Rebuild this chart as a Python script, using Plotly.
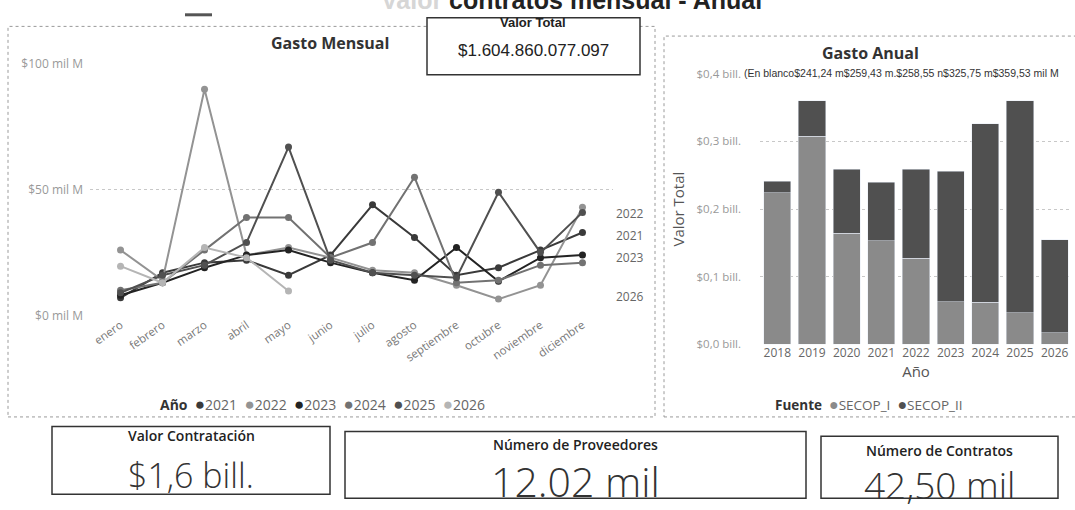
import plotly.graph_objects as go

W, H = 1075, 510

# ---------------- data ----------------
months = ["enero", "febrero", "marzo", "abril", "mayo", "junio", "julio",
          "agosto", "septiembre", "octubre", "noviembre", "diciembre"]
years_line = ["2021", "2022", "2023", "2024", "2025", "2026"]
gasto_2021 = [7, 17, 21, 22, 16, 24, 44, 31, 16, 19, 26, 33]
gasto_2022 = [26, 14, 90, 24, 27, 23, 18, 17, 12, 6.5, 12, 43]
gasto_2023 = [8, 13, 19, 24, 26, 21, 17, 14, 27, 13.6, 23, 24]
gasto_2024 = [10, 13, 26, 39, 39, 23, 29, 55, 13, 14, 20, 21]
gasto_2025 = [9, 16, 20, 29, 67, 22, 17, 16, 15, 49, 25, 41]
gasto_2026 = [19.6, 13, 27, 23, 9.7]
line_tickvals = [0, 50, 100]
line_ticktext = ["$0 mil M", "$50 mil M", "$100 mil M"]

years_bar = ["2018", "2019", "2020", "2021", "2022", "2023", "2024", "2025", "2026"]
secop_i = [0.224, 0.308, 0.164, 0.153, 0.127, 0.063, 0.062, 0.047, 0.017]
secop_ii = [0.017, 0.052, 0.095, 0.087, 0.132, 0.193, 0.264, 0.313, 0.138]
bar_tickvals = [0, 0.1, 0.2, 0.3, 0.4]
bar_ticktext = ["$0,0 bill.", "$0,1 bill.", "$0,2 bill.", "$0,3 bill.", "$0,4 bill."]
total_labels = "(En blanco$241,24 m$259,43 m.$258,55 n$325,75 m$359,53 mil M"

valor_total = "$1.604.860.077.097"
cards = [("Valor Contratación", "$1,6 bill."),
         ("Número de Proveedores", "12.02 mil"),
         ("Número de Contratos", "42,50 mil")]

# ---------------- styles ----------------
line_colors = {"2021": "#3a3a3a", "2022": "#939393", "2023": "#232323",
               "2024": "#727272", "2025": "#505050", "2026": "#b5b5b5"}
col_i, col_ii = "#8a8a8a", "#505050"
FONT = "Open Sans"
ARIAL = "Liberation Sans"


def X(p):
    return p / W


def Y(p):
    return 1 - p / H


series = {"2021": gasto_2021, "2022": gasto_2022, "2023": gasto_2023,
          "2024": gasto_2024, "2025": gasto_2025, "2026": gasto_2026}

fig = go.Figure()

for yr in years_line:
    vals = series[yr]
    fig.add_trace(go.Scatter(
        x=months[:len(vals)], y=vals, mode="lines+markers", name=yr,
        line=dict(color=line_colors[yr], width=2),
        marker=dict(color=line_colors[yr], size=7),
        showlegend=False, xaxis="x", yaxis="y"))

fig.add_trace(go.Bar(x=years_bar, y=secop_i, name="SECOP_I", marker_color=col_i,
                     showlegend=False, xaxis="x2", yaxis="y2"))
fig.add_trace(go.Bar(x=years_bar, y=secop_ii, name="SECOP_II", marker_color=col_ii,
                     showlegend=False, xaxis="x2", yaxis="y2"))

shapes = []
# panel borders
shapes.append(dict(type="rect", xref="paper", yref="paper", x0=X(8), x1=X(655),
                   y0=Y(422), y1=Y(18), line=dict(color="#9a9a9a", width=1, dash="dot")))
shapes.append(dict(type="rect", xref="paper", yref="paper", x0=X(664), x1=X(1085),
                   y0=Y(422), y1=Y(28), line=dict(color="#9a9a9a", width=1, dash="dot")))
# valor total box
shapes.append(dict(type="rect", xref="paper", yref="paper", x0=X(427), x1=X(640),
                   y0=Y(68), y1=Y(9), line=dict(color="#333", width=1.5),
                   fillcolor="white"))
# small top bar
shapes.append(dict(type="line", xref="paper", yref="paper", x0=X(185), x1=X(212),
                   y0=Y(6), y1=Y(6), line=dict(color="#555", width=3)))
# cards
card_boxes = [(52, 330, 432, 502), (345, 806, 437, 506), (821, 1058, 442, 506)]
for (x0, x1, y0, y1) in card_boxes:
    shapes.append(dict(type="rect", xref="paper", yref="paper", x0=X(x0), x1=X(x1),
                       y0=Y(y1), y1=Y(y0), line=dict(color="#333", width=1.5)))


def txt(text, x, y, size, color="#333", family=FONT, weight="normal",
        xanchor="center", yref="paper", yval=None):
    return dict(text=text, x=X(x), y=(Y(y) if yval is None else yval), xref="paper",
                yref=yref, xanchor=xanchor, yanchor="middle", showarrow=False,
                font=dict(family=family, size=size, color=color, weight=weight))


def dot(color, size=17):
    return f"<span style='color:{color};font-size:{size}px'>●</span>"


ann = []
ann.append(txt("<span style='color:#d6d6d6'>Valor </span>contratos mensual - Anual",
               764, -9, 25, "#222", ARIAL, "bold", xanchor="right"))
ann.append(txt("Gasto Mensual", 330, 35, 16, "#333", FONT, "bold"))
ann.append(txt("Valor Total", 533, 14, 13, "#222", ARIAL, "bold"))
ann.append(txt(valor_total, 533, 43, 17, "#222", ARIAL))
ann.append(txt("Gasto Anual", 870, 45, 16, "#333", FONT, "bold"))
ann.append(txt(total_labels, 742, 66, 10.5, "#333", ARIAL, xanchor="left"))
# end labels for line chart
for yr, yv in [("2022", 40.5), ("2021", 32), ("2023", 23), ("2026", 7.5)]:
    ann.append(txt(yr, 614, 0, 12, "#666", FONT, xanchor="left", yref="y", yval=yv))
# legends (Power BI style compact legends)
leg1 = "<b style='color:#333'>Año</b>  " + "  ".join(
    f"{dot(line_colors[y])}{y}" for y in years_line)
ann.append(txt(leg1, 322, 408, 14, "#666", FONT))
leg2 = ("<b style='color:#333'>Fuente</b>  "
        f"{dot(col_i, 16)}SECOP_I  {dot(col_ii, 16)}SECOP_II")
ann.append(txt(leg2, 869, 409, 13.5, "#666", FONT))
# cards text
card_title_y = [441, 451, 457]
card_val_y = [482, 488, 492]
card_val_size = [34, 41, 37]
for i, (t, v) in enumerate(cards):
    x0, x1, _, _ = card_boxes[i]
    cx = (x0 + x1) / 2
    ann.append(txt(t, cx, card_title_y[i], 14, "#222", FONT, 600))
    ann.append(txt(v, cx, card_val_y[i], card_val_size[i], "#333", FONT, 300))

fig.update_layout(
    width=W, height=H, margin=dict(l=0, r=0, t=0, b=0),
    paper_bgcolor="white", plot_bgcolor="white",
    font=dict(family=FONT, color="#666"),
    barmode="stack", bargap=0.22, showlegend=False,
    shapes=shapes, annotations=ann,
    xaxis=dict(domain=[X(90), X(613)], type="category", categoryorder="array",
               categoryarray=months, tickangle=-35, showgrid=False, showline=False,
               ticks="", tickfont=dict(size=11.5, color="#777"), anchor="y"),
    yaxis=dict(domain=[Y(317), Y(57)], range=[0, 100], tickvals=line_tickvals,
               ticktext=line_ticktext, showgrid=True, gridcolor="#c8c8c8",
               griddash="dot", zeroline=False, showline=False, ticks="",
               ticklabelstandoff=6,
               tickfont=dict(size=12, color="#999"), anchor="x"),
    xaxis2=dict(domain=[X(760), X(1072)], type="category", showgrid=False,
                ticks="", tickfont=dict(size=12, color="#666"), anchor="y2",
                title=dict(text="Año", font=dict(size=15, color="#555"), standoff=4)),
    yaxis2=dict(domain=[Y(347), Y(67)], range=[0, 0.4], tickvals=bar_tickvals,
                ticktext=bar_ticktext, showgrid=True, gridcolor="#c8c8c8",
                griddash="dot", zeroline=False, ticks="", ticklabelstandoff=18,
                tickfont=dict(size=11.5, color="#999"), anchor="x2",
                title=dict(text="Valor Total", font=dict(size=15, color="#555"),
                           standoff=8)),
)

fig.write_html("out.html", config={"displayModeBar": False},
               post_script="document.body.style.margin='0';"
                           "document.body.style.overflow='hidden';")
